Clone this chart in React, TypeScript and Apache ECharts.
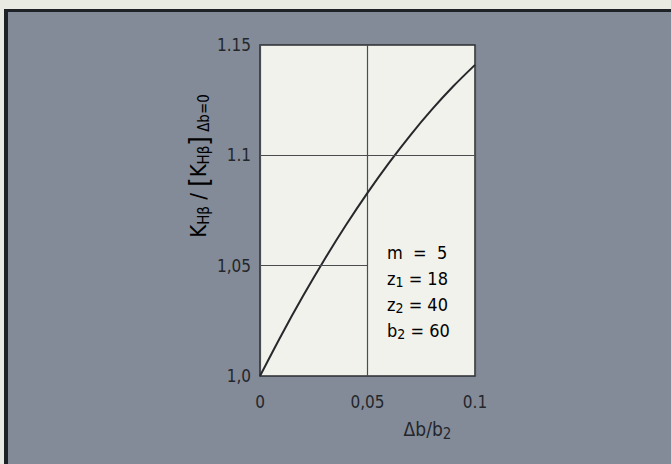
import React, { useEffect, useRef } from "react";
import * as echarts from "echarts";

const xValues = [0, 0.01, 0.02, 0.03, 0.04, 0.05, 0.06, 0.07, 0.08, 0.09, 0.1];
const yValues = [1.0, 1.0186, 1.0362, 1.0528, 1.0684, 1.083, 1.0966, 1.1092, 1.1208, 1.1314, 1.141];
const yTickLabels = ["1,0", "1,05", "1.1", "1.15"];
const xTickLabels = ["0", "0,05", "0.1"];
const paramLines = [
  ["m", "", "  =  5"],
  ["z", "1", " = 18"],
  ["z", "2", " = 40"],
  ["b", "2", " = 60"],
];

const FONT = "'DejaVu Sans Condensed', 'DejaVu Sans', sans-serif";
const TEXT = "#23262b";

export default function App() {
  const ref = useRef<HTMLDivElement>(null);
  useEffect(() => {
    document.body.style.margin = "0";
    const chart = echarts.init(ref.current!, null, { renderer: "svg" });
    const data = xValues.map((x, i) => [x, yValues[i]]);
    const sub = { fontSize: 12, fontFamily: FONT, color: TEXT, padding: [10, 0, 0, 0] };
    const main = { fontSize: 17, fontFamily: FONT, color: TEXT, lineHeight: 22 };
    const paramText = paramLines
      .map((l) => `{a|${l[0]}}` + (l[1] ? `{s|${l[1]}}` : "") + `{a|${l[2]}}`)
      .join("\n");
    chart.setOption({
      animation: false,
      backgroundColor: "transparent",
      grid: {
        left: 260,
        top: 45,
        width: 215,
        height: 331,
        show: true,
        backgroundColor: "#f1f2eb",
        borderColor: "#2b2d31",
        borderWidth: 1.5,
      },
      xAxis: {
        type: "value",
        min: 0,
        max: 0.1,
        interval: 0.05,
        axisLine: { show: false },
        axisTick: { show: false },
        splitLine: { show: true, lineStyle: { color: "#4a4c50", width: 1.2 } },
        axisLabel: {
          margin: 17,
          fontSize: 17,
          fontFamily: FONT,
          color: TEXT,
          formatter: (v: number) => xTickLabels[Math.round(v / 0.05)] ?? "",
        },
        name: "{a|Δb/b}{s|2}",
        nameLocation: "middle",
        nameGap: 40,
        nameTextStyle: {
          padding: [0, 0, 0, 120],
          rich: { a: { ...main, fontSize: 19 }, s: { ...sub, fontSize: 15 } },
        },
      },
      yAxis: {
        type: "value",
        min: 1,
        max: 1.15,
        interval: 0.05,
        axisLine: { show: false },
        axisTick: { show: false },
        splitLine: { show: false },
        axisLabel: {
          margin: 9,
          fontSize: 17,
          fontFamily: FONT,
          color: TEXT,
          formatter: (v: number) => yTickLabels[Math.round((v - 1) / 0.05)] ?? "",
        },
      },
      graphic: [
        {
          type: "text",
          x: 198,
          y: 166,
          rotation: Math.PI / 2,
          style: {
            text: "{a|K}{s|Hβ}{a| / }{b|[}{a|K}{s|Hβ}{b|]}{s| Δb=0}",
            align: "center",
            verticalAlign: "middle",
            rich: {
              a: { ...main, fontSize: 22, lineHeight: 28 },
              b: { ...main, fontSize: 27, lineHeight: 28 },
              s: { ...sub, fontSize: 15, padding: [12, 0, 0, 0] },
            },
          },
        },
        {
          type: "text",
          x: 387,
          y: 239,
          style: {
            text: paramText,
            align: "left",
            verticalAlign: "top",
            rich: {
              a: { ...main, fontSize: 18, lineHeight: 26 },
              s: { ...sub, fontSize: 14, padding: [8, 0, 0, 0] },
            },
          },
        },
      ],
      series: [
        {
          type: "line",
          data,
          smooth: 0.3,
          showSymbol: false,
          lineStyle: { color: "#26282c", width: 2 },
          markLine: {
            silent: true,
            symbol: "none",
            label: { show: false },
            lineStyle: { color: "#4a4c50", width: 1.2, type: "solid" },
            data: [
              { yAxis: 1.1 },
              [
                { coord: [0, 1.05] },
                { coord: [0.05, 1.05] },
              ],
            ],
          },
        },
      ],
    });
    return () => chart.dispose();
  }, []);
  return (
    <div style={{ position: "relative", width: 671, height: 464, overflow: "hidden", background: "#e9eae2" }}>
      <div
        style={{
          position: "absolute",
          left: 4,
          top: 9,
          width: 700,
          height: 500,
          background: "#838b98",
          borderTop: "3px solid #1e2125",
          borderLeft: "4px solid #1e2125",
        }}
      />
      <div ref={ref} style={{ position: "absolute", left: 0, top: 0, width: 671, height: 464 }} />
    </div>
  );
}
